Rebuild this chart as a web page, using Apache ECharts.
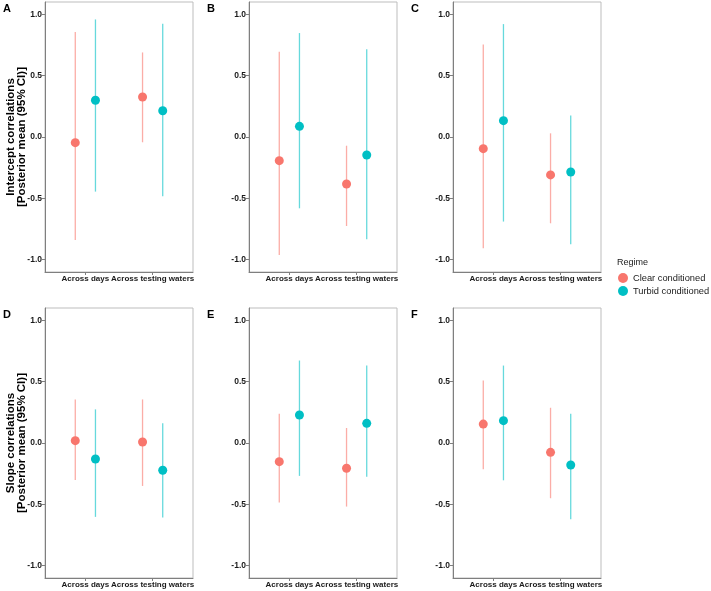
<!DOCTYPE html>
<html><head><meta charset="utf-8">
<script src="https://cdn.jsdelivr.net/npm/echarts@6/dist/echarts.min.js"></script>
<style>html,body{margin:0;padding:0;background:#fff}#c{width:711px;height:591px}</style>
</head><body><div id="c"></div>
<script>
const categories = ["Across days", "Across testing waters"];
const seriesNames = ["Clear conditioned", "Turbid conditioned"];
const panelLabels = ["A", "B", "C", "D", "E", "F"];
const rowTitles = ["Intercept correlations\n[Posterior mean (95% CI)]", "Slope correlations\n[Posterior mean (95% CI)]"];
const yTicks = [-1.0, -0.5, 0.0, 0.5, 1.0];

// per panel: [days, testing waters] for each regime
const clearMean = [[-0.046, 0.326], [-0.193, -0.383], [-0.095, -0.309], [0.019, 0.008], [-0.152, -0.206], [0.154, -0.076]];
const clearLow  = [[-0.839, -0.043], [-0.961, -0.725], [-0.906, -0.703], [-0.301, -0.350], [-0.485, -0.518], [-0.214, -0.450]];
const clearHigh = [[0.855, 0.689], [0.695, -0.071], [0.754, 0.030], [0.355, 0.355], [0.238, 0.122], [0.509, 0.287]];
const turbidMean = [[0.299, 0.214], [0.087, -0.147], [0.133, -0.285], [-0.130, -0.222], [0.228, 0.160], [0.182, -0.179]];
const turbidLow  = [[-0.445, -0.483], [-0.581, -0.833], [-0.689, -0.874], [-0.602, -0.607], [-0.268, -0.276], [-0.304, -0.621]];
const turbidHigh = [[0.958, 0.923], [0.847, 0.716], [0.920, 0.176], [0.274, 0.160], [0.672, 0.631], [0.631, 0.238]];

const colors = ["#F8766D", "#00BFC4"];
const lineColors = ["rgba(248,118,109,0.6)", "rgba(0,191,196,0.6)"];
const dodge = 0.15;

const chart = echarts.init(document.getElementById('c'), null, {renderer: 'canvas'});
const lefts = [45, 249, 453];
const tops = [2, 308];
const grids = [], xAxes = [], yAxes = [], series = [], graphics = [];
const txt = '#1a1a1a';
const ff = 'Liberation Sans, Arial';
for (let p = 0; p < 6; p++) {
  const r = Math.floor(p / 3), c = p % 3;
  grids.push({left: lefts[c], top: tops[r], width: 148, height: 270, show: true, borderColor: '#bdbdbd', borderWidth: 1, backgroundColor: '#fff', containLabel: false});
  xAxes.push({
    type: 'value', gridIndex: p, min: 0.4, max: 2.6,
    splitLine: {show: false},
    axisLine: {show: true, onZero: false, lineStyle: {color: '#7f7f7f', width: 1}},
    axisTick: {show: true, customValues: [1, 2], length: 3, lineStyle: {color: '#7f7f7f'}},
    axisLabel: {show: true, customValues: [1, 2], hideOverlap: false, showMinLabel: true, showMaxLabel: true,
      formatter: v => categories[Math.round(v) - 1], color: txt, fontWeight: 'bold', fontSize: 8, fontFamily: ff, margin: 3}
  });
  yAxes.push({
    type: 'value', gridIndex: p, min: -1.1, max: 1.1,
    splitLine: {show: false},
    axisLine: {show: true, onZero: false, lineStyle: {color: '#7f7f7f', width: 1}},
    axisTick: {show: true, customValues: yTicks, length: 3, lineStyle: {color: '#7f7f7f'}},
    axisLabel: {show: true, customValues: yTicks, formatter: v => v.toFixed(1), color: txt, fontWeight: 'bold', fontSize: 8.5, fontFamily: ff, margin: 3},
    name: c === 0 ? rowTitles[r] : '', nameLocation: 'middle', nameGap: 18, nameRotate: 90, nameMoveOverlap: false,
    nameTextStyle: {color: '#000', fontWeight: 'bold', fontSize: 11.5, fontFamily: ff, lineHeight: 11}
  });
  const groups = [[clearMean, clearLow, clearHigh], [turbidMean, turbidLow, turbidHigh]];
  groups.forEach((g, s) => {
    const off = s === 0 ? -dodge : dodge;
    const ranges = categories.map((_, i) => [i + 1 + off, g[1][p][i], g[2][p][i]]);
    series.push({
      type: 'custom', xAxisIndex: p, yAxisIndex: p, silent: true,
      data: ranges,
      renderItem: (params, api) => {
        const a = api.coord([api.value(0), api.value(1)]);
        const b = api.coord([api.value(0), api.value(2)]);
        return {type: 'line', shape: {x1: a[0], y1: a[1], x2: b[0], y2: b[1]}, style: {stroke: lineColors[s], lineWidth: 1.3}};
      },
      z: 2
    });
    series.push({
      name: seriesNames[s], type: 'scatter', xAxisIndex: p, yAxisIndex: p,
      data: categories.map((_, i) => [i + 1 + off, g[0][p][i]]),
      symbolSize: 9, itemStyle: {color: colors[s], opacity: 1}, z: 3
    });
  });
  graphics.push({type: 'text', left: lefts[c] - 42, top: tops[r] + 1, style: {text: panelLabels[p], font: 'bold 11px ' + ff, fill: '#000'}});
}

graphics.push({type: 'text', left: 617, top: 258, style: {text: 'Regime', font: '9px ' + ff, fill: '#1a1a1a'}});
chart.setOption({
  animation: false,
  backgroundColor: '#fff',
  grid: grids, xAxis: xAxes, yAxis: yAxes, series: series,
  legend: {
    data: seriesNames, orient: 'vertical', left: 618, top: 273, padding: 0,
    icon: 'circle', itemWidth: 10, itemHeight: 10, itemGap: 3,
    textStyle: {fontSize: 9.3, color: '#1a1a1a', fontFamily: ff}
  },
  graphic: graphics
});
</script>
</body></html>
